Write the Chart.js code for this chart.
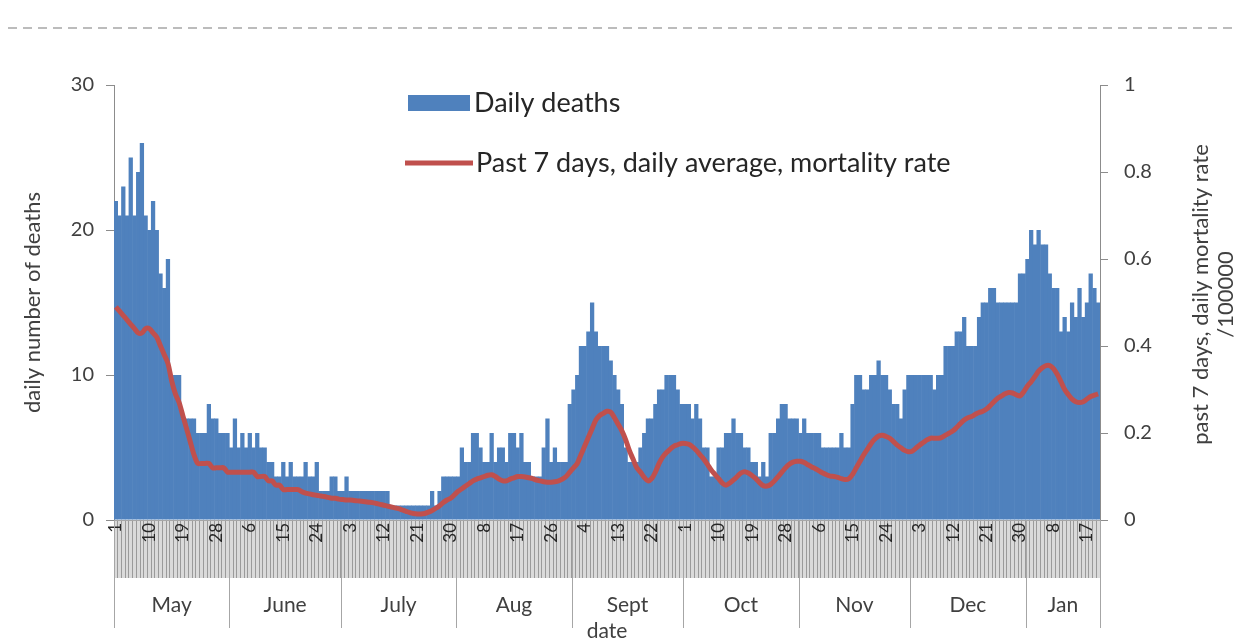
<!DOCTYPE html>
<html>
<head>
<meta charset="utf-8">
<script src="https://cdn.jsdelivr.net/npm/chart.js@4.4.1/dist/chart.umd.min.js"></script>
<style>
    html, body { margin: 0; padding: 0; background: #fff; }
    #wrap { position: relative; width: 1238px; height: 644px; }
</style>
</head>
<body>
<div id="wrap"><canvas id="deathChart" width="1238" height="644"></canvas></div>
<script>
// 月份 (May .. Jan)
const monthNames = ['May', 'June', 'July', 'Aug', 'Sept', 'Oct', 'Nov', 'Dec', 'Jan'];
const monthDays = [31, 30, 31, 31, 30, 31, 30, 31, 20];

// daily deaths, one value per day
const deaths = [
    // May
    22, 21, 23, 21, 25, 21, 24, 26, 21, 20, 22, 20, 17, 16, 18, 10, 10, 10, 7, 7, 7, 7, 6, 6, 6, 8, 7, 7, 6, 6, 6,
    // June
    5, 7, 5, 6, 5, 6, 5, 6, 5, 5, 4, 4, 3, 3, 4, 3, 4, 3, 3, 3, 4, 3, 3, 4, 2, 2, 2, 3, 3, 2,
    // July
    2, 3, 2, 2, 2, 2, 2, 2, 2, 2, 2, 2, 2, 1, 1, 1, 1, 1, 1, 1, 1, 1, 1, 1, 2, 1, 2, 3, 3, 3, 3,
    // Aug
    3, 5, 4, 4, 6, 6, 5, 4, 4, 6, 4, 5, 5, 4, 6, 6, 5, 6, 4, 4, 3, 3, 3, 5, 7, 4, 5, 4, 4, 4, 8,
    // Sept
    9, 10, 12, 12, 13, 15, 13, 12, 12, 12, 11, 10, 9, 8, 5, 4, 4, 4, 5, 6, 7, 7, 8, 9, 9, 10, 10, 10, 9, 8,
    // Oct
    8, 8, 7, 8, 7, 5, 5, 3, 3, 5, 5, 6, 6, 7, 6, 6, 5, 5, 4, 4, 3, 4, 3, 6, 6, 7, 8, 8, 7, 7, 7,
    // Nov
    6, 7, 6, 6, 6, 6, 5, 5, 5, 5, 5, 6, 5, 5, 8, 10, 10, 9, 9, 10, 10, 11, 10, 10, 9, 8, 8, 7, 9, 10,
    // Dec
    10, 10, 10, 10, 10, 10, 9, 10, 10, 12, 12, 12, 13, 13, 14, 12, 12, 12, 14, 15, 15, 16, 16, 15, 15, 15, 15, 15, 15, 17, 17,
    // Jan
    18, 20, 19, 20, 19, 19, 17, 16, 16, 13, 14, 13, 15, 14, 16, 14, 15, 17, 16, 15
];

// past 7 days daily average mortality rate /100000 (right axis)
const rate = [
    // May
    0.49, 0.48, 0.47, 0.46, 0.45, 0.44, 0.43, 0.43, 0.44, 0.44, 0.43, 0.42, 0.40, 0.38, 0.36, 0.32,
    0.29, 0.27, 0.24, 0.21, 0.18, 0.15, 0.13, 0.13, 0.13, 0.13, 0.12, 0.12, 0.12, 0.12, 0.11,
    // June
    0.11, 0.11, 0.11, 0.11, 0.11, 0.11, 0.11, 0.10, 0.10, 0.10, 0.09, 0.09, 0.08, 0.08, 0.07,
    0.07, 0.07, 0.07, 0.07, 0.065, 0.062, 0.06, 0.058, 0.057, 0.055, 0.054, 0.052, 0.05, 0.05, 0.048,
    // July
    0.047, 0.046, 0.046, 0.045, 0.044, 0.043, 0.042, 0.041, 0.04, 0.038, 0.036, 0.034, 0.032, 0.03, 0.028,
    0.026, 0.023, 0.02, 0.017, 0.015, 0.014, 0.014, 0.015, 0.018, 0.022, 0.027, 0.033, 0.04, 0.046, 0.05, 0.058,
    // Aug
    0.066, 0.072, 0.078, 0.084, 0.09, 0.094, 0.097, 0.1, 0.103, 0.104, 0.1, 0.094, 0.09, 0.09, 0.094,
    0.097, 0.1, 0.1, 0.099, 0.097, 0.095, 0.092, 0.09, 0.088, 0.087, 0.087, 0.088, 0.09, 0.094, 0.1, 0.11,
    // Sept
    0.12, 0.13, 0.15, 0.17, 0.19, 0.21, 0.23, 0.24, 0.245, 0.25, 0.248, 0.235, 0.22, 0.205, 0.185,
    0.16, 0.14, 0.12, 0.11, 0.098, 0.09, 0.095, 0.11, 0.13, 0.145, 0.155, 0.163, 0.17, 0.173, 0.176,
    // Oct
    0.176, 0.174, 0.168, 0.16, 0.15, 0.14, 0.128, 0.115, 0.105, 0.095, 0.085, 0.08, 0.085, 0.092, 0.1,
    0.108, 0.111, 0.108, 0.102, 0.095, 0.086, 0.079, 0.078, 0.082, 0.09, 0.1, 0.11, 0.12, 0.128, 0.133, 0.135,
    // Nov
    0.135, 0.132, 0.127, 0.122, 0.118, 0.113, 0.108, 0.104, 0.101, 0.1, 0.098, 0.095, 0.093, 0.095, 0.105,
    0.12, 0.135, 0.15, 0.163, 0.176, 0.186, 0.193, 0.195, 0.192, 0.188, 0.18, 0.172, 0.166, 0.16, 0.157,
    // Dec
    0.158, 0.165, 0.172, 0.178, 0.184, 0.188, 0.188, 0.188, 0.19, 0.195, 0.2, 0.205, 0.213, 0.222, 0.23,
    0.235, 0.238, 0.243, 0.247, 0.25, 0.255, 0.263, 0.272, 0.28, 0.285, 0.29, 0.293, 0.292, 0.288, 0.285, 0.295,
    // Jan
    0.308, 0.318, 0.33, 0.342, 0.35, 0.355, 0.355, 0.348, 0.335, 0.318, 0.3, 0.288, 0.278, 0.272, 0.27,
    0.272, 0.278, 0.284, 0.287, 0.29
];

const FONT = 'Lato, "Open Sans", sans-serif';
const TEXT = '#404040';
const AXIS = '#8c8c8c';
const BAND = 58; // height of the day-tick band under the plot

// 日期标签
const dayLabels = [];
const monthStart = [];
monthDays.forEach(n => {
    monthStart.push(dayLabels.length);
    for (let d = 1; d <= n; d++) dayLabels.push(String(d));
});

// 自定义绘制：虚线、图例、月份行、右轴标题
const decorPlugin = {
    id: 'decor',
    beforeDraw(chart) {
        // light grey behind the day ticks
        const area = chart.chartArea;
        const ctx = chart.ctx;
        ctx.save();
        ctx.fillStyle = '#dadada';
        ctx.fillRect(area.left, area.bottom, area.right - area.left, BAND);
        ctx.restore();
    },
    afterDraw(chart) {
        const ctx = chart.ctx;
        const x = chart.scales.x;
        const area = chart.chartArea;
        ctx.save();

        // dashed line at top of the page
        ctx.strokeStyle = '#a6a6a6';
        ctx.lineWidth = 1.5;
        ctx.setLineDash([9, 6]);
        ctx.beginPath();
        ctx.moveTo(8, 28);
        ctx.lineTo(1238, 28);
        ctx.stroke();
        ctx.setLineDash([]);

        // month row
        const rowTop = area.bottom + BAND;
        const rowBottom = area.bottom + 108;
        ctx.strokeStyle = '#a6a6a6';
        ctx.lineWidth = 1;
        ctx.font = '21px ' + FONT;
        ctx.fillStyle = TEXT;
        ctx.textAlign = 'center';
        ctx.textBaseline = 'middle';
        monthNames.forEach((name, m) => {
            const start = monthStart[m];
            const end = start + monthDays[m] - 1;
            const x0 = x.getPixelForValue(start - 0.5);
            const x1 = x.getPixelForValue(end + 0.5);
            ctx.beginPath();
            ctx.moveTo(Math.round(x0) + 0.5, area.bottom);
            ctx.lineTo(Math.round(x0) + 0.5, rowBottom);
            ctx.stroke();
            if (m === monthNames.length - 1) {
                ctx.beginPath();
                ctx.moveTo(Math.round(x1) + 0.5, area.bottom);
                ctx.lineTo(Math.round(x1) + 0.5, rowBottom);
                ctx.stroke();
            }
            ctx.fillText(name, (x0 + x1) / 2, (rowTop + rowBottom) / 2 + 2);
        });

        // right axis title (reads bottom to top)
        ctx.save();
        ctx.translate(1201, (area.top + area.bottom) / 2 - 8);
        ctx.rotate(-Math.PI / 2);
        ctx.font = '22px ' + FONT;
        ctx.fillStyle = TEXT;
        ctx.fillText('past 7 days, daily mortality rate', 0, 0);
        ctx.fillText('/100000', 0, 25);
        ctx.restore();

        // legend
        const bars = chart.data.datasets[1];
        const line = chart.data.datasets[0];
        ctx.font = '27px ' + FONT;
        ctx.textAlign = 'left';
        ctx.textBaseline = 'middle';
        ctx.fillStyle = bars.backgroundColor;
        ctx.fillRect(408, 95, 62, 16);
        ctx.fillStyle = '#262626';
        ctx.fillText(bars.label, 474, 103);
        ctx.strokeStyle = line.borderColor;
        ctx.lineWidth = line.borderWidth;
        ctx.beginPath();
        ctx.moveTo(405, 163);
        ctx.lineTo(473, 163);
        ctx.stroke();
        ctx.fillStyle = '#262626';
        ctx.fillText(line.label, 476, 163);

        ctx.restore();
    }
};

const ctx = document.getElementById('deathChart').getContext('2d');
new Chart(ctx, {
    type: 'bar',
    data: {
        labels: dayLabels,
        datasets: [{
            type: 'line',
            label: 'Past 7 days, daily average, mortality rate',
            data: rate,
            yAxisID: 'y2',
            borderColor: '#C0504D',
            borderWidth: 5,
            pointRadius: 0,
            tension: 0.3,
            order: 0
        }, {
            label: 'Daily deaths',
            data: deaths,
            yAxisID: 'y',
            backgroundColor: '#4F81BD',
            borderWidth: 0,
            barPercentage: 1.15,
            categoryPercentage: 1,
            order: 1
        }]
    },
    options: {
        responsive: false,
        animation: false,
        layout: {
            padding: { top: 85, left: 0, right: 0, bottom: 0 }
        },
        scales: {
            x: {
                afterFit: s => { s.height = 124; },
                grid: {
                    display: true,
                    drawOnChartArea: false,
                    drawTicks: true,
                    tickLength: BAND,
                    color: '#9a9a9a',
                    lineWidth: 1
                },
                border: { display: true, color: '#a6a6a6' },
                ticks: {
                    autoSkip: false,
                    maxRotation: 90,
                    minRotation: 90,
                    padding: -55,
                    color: '#262626',
                    font: { family: FONT, size: 17 },
                    callback: (v, i) => (i % 9 === 0 ? dayLabels[i] : '')
                },
                title: {
                    display: true,
                    text: 'date',
                    color: TEXT,
                    font: { family: FONT, size: 21 },
                    padding: 0
                }
            },
            y: {
                position: 'left',
                min: 0,
                max: 30,
                afterFit: s => { s.width = 114; },
                grid: {
                    drawOnChartArea: false,
                    tickLength: 8,
                    color: AXIS
                },
                border: { display: true, color: AXIS },
                ticks: {
                    stepSize: 10,
                    padding: 12,
                    color: TEXT,
                    font: { family: FONT, size: 20 }
                },
                title: {
                    display: true,
                    text: 'daily number of deaths',
                    color: TEXT,
                    font: { family: FONT, size: 22 },
                    padding: { top: 20, bottom: 20 }
                }
            },
            y2: {
                position: 'right',
                min: 0,
                max: 1,
                afterFit: s => { s.width = 138; },
                grid: {
                    drawOnChartArea: false,
                    tickLength: 8,
                    color: AXIS
                },
                border: { display: true, color: AXIS },
                ticks: {
                    stepSize: 0.2,
                    padding: 16,
                    color: TEXT,
                    font: { family: FONT, size: 20 },
                    callback: v => String(Number(v.toFixed(1)))
                }
            }
        },
        plugins: {
            legend: { display: false },
            tooltip: { enabled: false }
        }
    },
    plugins: [decorPlugin]
});
</script>
</body>
</html>
